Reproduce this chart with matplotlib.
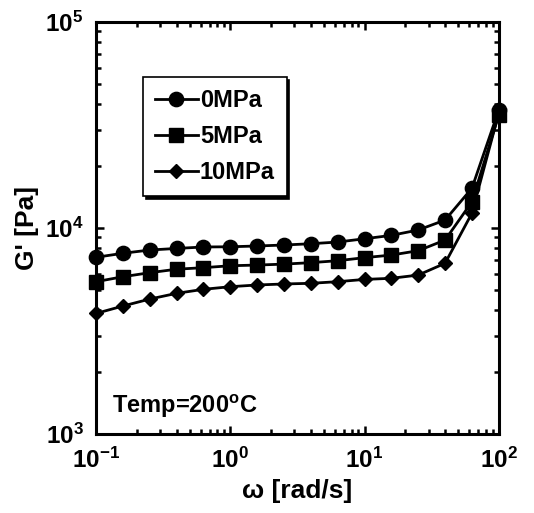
import math

import matplotlib as mpl
import matplotlib.pyplot as plt
from matplotlib.ticker import FuncFormatter, LogLocator, NullFormatter

mpl.rcParams.update(
    {
        "font.family": "Liberation Sans",
        "font.weight": "bold",
        "mathtext.fontset": "custom",
        "mathtext.rm": "Liberation Sans:bold",
        "mathtext.bf": "Liberation Sans:bold",
        "mathtext.it": "Liberation Sans:bold",
        "mathtext.default": "bf",
    }
)

# angular frequency (rad/s), 5 points per decade
omega = [0.1, 0.158, 0.251, 0.398, 0.631, 1.0, 1.58, 2.51, 3.98, 6.31,
         10.0, 15.8, 25.1, 39.8, 63.1, 100.0]

# storage modulus G' (Pa)
g_0mpa = [7210, 7540, 7820, 7960, 8090, 8110, 8180, 8270, 8390, 8550,
          8870, 9210, 9780, 10930, 15600, 37400]
g_5mpa = [5490, 5800, 6070, 6310, 6420, 6560, 6610, 6680, 6790, 6940,
          7180, 7390, 7760, 8740, 13400, 35400]
g_10mpa = [3850, 4180, 4520, 4820, 5040, 5190, 5290, 5350, 5390, 5490,
           5630, 5700, 5910, 6740, 11800, 36100]

labels = ["0MPa", "5MPa", "10MPa"]
markers = ["o", "s", "D"]
msizes = [10.3, 10.3, 7.2]

fig = plt.figure(figsize=(5.34, 5.13), dpi=100)
ax = fig.add_axes([0.180, 0.154, 0.754, 0.803])

for g, lab, mk, ms in zip([g_0mpa, g_5mpa, g_10mpa], labels, markers, msizes):
    ax.plot(omega, g, color="black", linewidth=2.0, marker=mk, markersize=ms,
            markerfacecolor="black", markeredgecolor="black", label=lab,
            clip_on=False, zorder=3)

ax.set_xscale("log")
ax.set_yscale("log")
ax.set_xlim(0.1, 100)
ax.set_ylim(1e3, 1e5)

fmt = FuncFormatter(lambda v, pos: r"$\mathbf{10^{%d}}$" % round(math.log10(v)))
for axis in (ax.xaxis, ax.yaxis):
    axis.set_major_locator(LogLocator(base=10, numticks=10))
    axis.set_minor_locator(LogLocator(base=10, subs=range(2, 10), numticks=20))
    axis.set_major_formatter(fmt)
    axis.set_minor_formatter(NullFormatter())

ax.tick_params(which="both", direction="in", top=True, right=True, width=1.8)
ax.tick_params(which="major", length=6, labelsize=17.5)
ax.tick_params(axis="x", which="major", pad=10)
ax.tick_params(axis="y", which="major", pad=9)
ax.tick_params(which="minor", length=3.5)
for sp in ax.spines.values():
    sp.set_linewidth(2.2)

ax.set_xlabel("ω [rad/s]", fontsize=19, fontweight="bold", labelpad=4)
ax.set_ylabel("G' [Pa]", fontsize=19, fontweight="bold", labelpad=4)

ax.text(0.04, 0.05, r"Temp=200$^{\mathbf{o}}$C", transform=ax.transAxes,
        fontsize=17, fontweight="bold", va="baseline", ha="left")

leg = ax.legend(loc="upper left", bbox_to_anchor=(0.117, 0.866), fontsize=17,
                frameon=True, fancybox=False, shadow={"color": "black", "alpha": 1},
                handlelength=1.8, handletextpad=0.1, labelspacing=0.55,
                borderpad=0.5, borderaxespad=0)
leg.get_frame().set_edgecolor("black")
leg.get_frame().set_linewidth(1.2)
leg.get_frame().set_alpha(1)

fig.savefig("out.png", dpi=100)
